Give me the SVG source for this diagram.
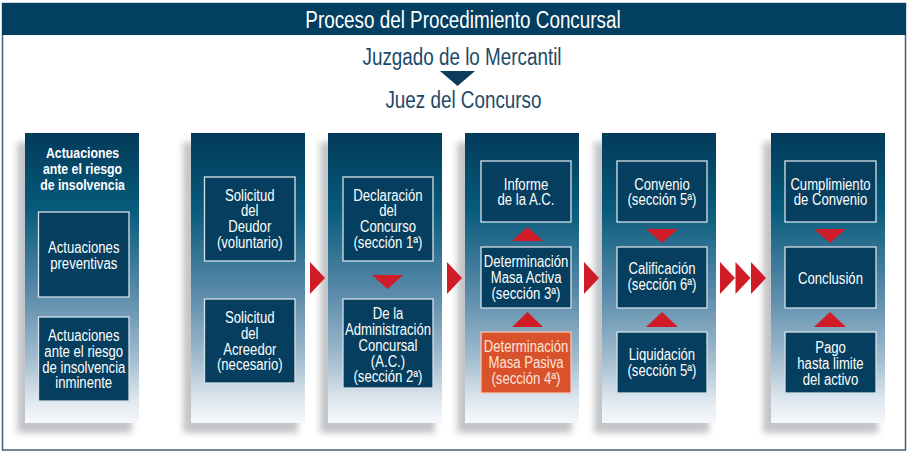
<svg xmlns="http://www.w3.org/2000/svg" width="908" height="452" viewBox="0 0 908 452">
<defs>
<linearGradient id="colGrad" x1="0" y1="0" x2="0" y2="1">
<stop offset="0" stop-color="#033a5a"/>
<stop offset="0.26" stop-color="#075a7b"/>
<stop offset="0.56" stop-color="#5c8cab"/>
<stop offset="0.78" stop-color="#a3bdcf"/>
<stop offset="0.93" stop-color="#e2eaf1"/>
<stop offset="1" stop-color="#f6f8fb"/>
</linearGradient>
<filter id="blur" x="-20%" y="-20%" width="140%" height="140%">
<feGaussianBlur stdDeviation="3"/>
</filter>
<style>
.shadow{fill:#7a7f85;opacity:0.45;filter:url(#blur)}
.col{fill:url(#colGrad)}
.box{fill:#053e5e;stroke:#d6e0e8;stroke-width:1.3}
.obox{fill:#d9522c;stroke:#f3c6b6;stroke-width:1.3}
text{transform-box:fill-box;transform-origin:center;transform:scaleX(0.82)}
.t{font-family:"Liberation Sans Narrow","Liberation Sans",Arial,sans-serif;font-size:16px;fill:#ffffff;text-anchor:middle}
.ot{fill:#fbe4da}
.h{font-family:"Liberation Sans Narrow","Liberation Sans",Arial,sans-serif;font-size:15px;font-weight:bold;fill:#ffffff;text-anchor:middle}
.big{font-family:"Liberation Sans Narrow","Liberation Sans",Arial,sans-serif;font-size:23px;text-anchor:middle}
.red{fill:#d01c26}
</style>
</defs>
<rect x="0" y="0" width="908" height="452" fill="#ffffff"/>
<rect x="2.5" y="3.5" width="903" height="446.5" fill="#ffffff" stroke="#3f6078" stroke-width="1.5"/>
<g id="title">
<rect x="2" y="3" width="904" height="32" fill="#023f60"/>
<text class="big" x="463" y="28" fill="#ffffff">Proceso del Procedimiento Concursal</text>
</g>
<g id="juzgado"><text class="big" x="462" y="65" fill="#1c4a6a">Juzgado de lo Mercantil</text></g>
<g id="juez"><text class="big" x="463.5" y="108" fill="#1c4a6a">Juez del Concurso</text></g>

<g id="col1">
<rect class="shadow" x="17" y="142" width="115" height="291"/>
<rect class="col" x="25" y="133" width="114" height="290"/>
<text class="h" x="82.5" y="158">Actuaciones</text>
<text class="h" x="82.5" y="174">ante el riesgo</text>
<text class="h" x="82.5" y="190">de insolvencia</text>
</g>
<g id="n-preventivas">
<rect class="box" x="38.5" y="212" width="90.5" height="85"/>
<text class="t" x="83.75" y="253.2">Actuaciones</text>
<text class="t" x="83.75" y="268.9">preventivas</text>
</g>
<g id="n-inminente">
<rect class="box" x="38.5" y="317" width="90.5" height="84"/>
<text class="t" x="83.75" y="341.2">Actuaciones</text>
<text class="t" x="83.75" y="356.9">ante el riesgo</text>
<text class="t" x="83.75" y="372.6">de insolvencia</text>
<text class="t" x="83.75" y="388.3">inminente</text>
</g>

<g id="col2">
<rect class="shadow" x="183" y="142" width="115" height="291"/>
<rect class="col" x="191" y="133" width="114" height="290"/>
</g>
<g id="n-deudor">
<rect class="box" x="204.5" y="177" width="90.5" height="84"/>
<text class="t" x="249.75" y="200.7">Solicitud</text>
<text class="t" x="249.75" y="216.4">del</text>
<text class="t" x="249.75" y="232.1">Deudor</text>
<text class="t" x="249.75" y="247.8">(voluntario)</text>
</g>
<g id="n-acreedor">
<rect class="box" x="204.5" y="299" width="90.5" height="84"/>
<text class="t" x="249.75" y="323.2">Solicitud</text>
<text class="t" x="249.75" y="338.9">del</text>
<text class="t" x="249.75" y="354.6">Acreedor</text>
<text class="t" x="249.75" y="370.3">(necesario)</text>
</g>

<g id="col3">
<rect class="shadow" x="320" y="142" width="115" height="291"/>
<rect class="col" x="328" y="133" width="114" height="290"/>
</g>
<g id="n-declaracion">
<rect class="box" x="343" y="177" width="90" height="84"/>
<text class="t" x="388" y="200.7">Declaración</text>
<text class="t" x="388" y="216.4">del</text>
<text class="t" x="388" y="232.1">Concurso</text>
<text class="t" x="388" y="247.8">(sección 1ª)</text>
</g>
<g id="n-administracion">
<rect class="box" x="343" y="299" width="90" height="89"/>
<text class="t" x="388" y="319">De la</text>
<text class="t" x="388" y="335">Administración</text>
<text class="t" x="388" y="351">Concursal</text>
<text class="t" x="388" y="366.8">(A.C.)</text>
<text class="t" x="388" y="382.5">(sección 2ª)</text>
</g>

<g id="col4">
<rect class="shadow" x="457" y="142" width="115" height="291"/>
<rect class="col" x="465" y="133" width="114" height="290"/>
</g>
<g id="n-informe">
<rect class="box" x="481" y="161" width="90" height="61"/>
<text class="t" x="526" y="189.8">Informe</text>
<text class="t" x="526" y="205.5">de la A.C.</text>
</g>
<g id="n-activa">
<rect class="box" x="481" y="247" width="90" height="61"/>
<text class="t" x="526" y="267.5">Determinación</text>
<text class="t" x="526" y="283.2">Masa Activa</text>
<text class="t" x="526" y="299">(sección 3ª)</text>
</g>
<g id="n-pasiva">
<rect class="obox" x="481" y="332" width="90" height="61"/>
<text class="t ot" x="526" y="352.3">Determinación</text>
<text class="t ot" x="526" y="368">Masa Pasiva</text>
<text class="t ot" x="526" y="383.7">(sección 4ª)</text>
</g>

<g id="col5">
<rect class="shadow" x="594" y="142" width="115" height="291"/>
<rect class="col" x="602" y="133" width="114" height="290"/>
</g>
<g id="n-convenio">
<rect class="box" x="617" y="161" width="90" height="61"/>
<text class="t" x="662" y="189.8">Convenio</text>
<text class="t" x="662" y="205.5">(sección 5ª)</text>
</g>
<g id="n-calificacion">
<rect class="box" x="617" y="247" width="90" height="61"/>
<text class="t" x="662" y="274.5">Calificación</text>
<text class="t" x="662" y="290.2">(sección 6ª)</text>
</g>
<g id="n-liquidacion">
<rect class="box" x="617" y="332" width="90" height="61"/>
<text class="t" x="662" y="360.5">Liquidación</text>
<text class="t" x="662" y="376.2">(sección 5ª)</text>
</g>

<g id="col6">
<rect class="shadow" x="763" y="142" width="115" height="291"/>
<rect class="col" x="771" y="133" width="114" height="290"/>
</g>
<g id="n-cumplimiento">
<rect class="box" x="785" y="161" width="91" height="61"/>
<text class="t" x="830.5" y="189.8">Cumplimiento</text>
<text class="t" x="830.5" y="205.5">de Convenio</text>
</g>
<g id="n-conclusion">
<rect class="box" x="785" y="247" width="91" height="61"/>
<text class="t" x="830.5" y="283.8">Conclusión</text>
</g>
<g id="n-pago">
<rect class="box" x="785" y="332" width="91" height="61"/>
<text class="t" x="830.5" y="353.2">Pago</text>
<text class="t" x="830.5" y="368.9">hasta limite</text>
<text class="t" x="830.5" y="384.6">del activo</text>
</g>

<g id="connectors">
<polygon points="440,71 475,71 457.5,86" fill="#0d3c5b"/>
<polygon class="red" points="310,262 325,278 310,294"/>
<polygon class="red" points="447,262 462,278 447,294"/>
<polygon class="red" points="584,262 599,278 584,294"/>
<polygon class="red" points="720,262 735,278 720,294"/>
<polygon class="red" points="735.5,262 750.5,278 735.5,294"/>
<polygon class="red" points="751,262 766,278 751,294"/>
<polygon class="red" points="372,275 403,275 387.5,289"/>
<polygon class="red" points="512,241 543,241 527.5,227"/>
<polygon class="red" points="512,327 543,327 527.5,312"/>
<polygon class="red" points="646,229 678,229 662,243"/>
<polygon class="red" points="646,327 678,327 662,312"/>
<polygon class="red" points="814,229 846,229 830,243"/>
<polygon class="red" points="814,327 846,327 830,312"/>
</g>
</svg>
